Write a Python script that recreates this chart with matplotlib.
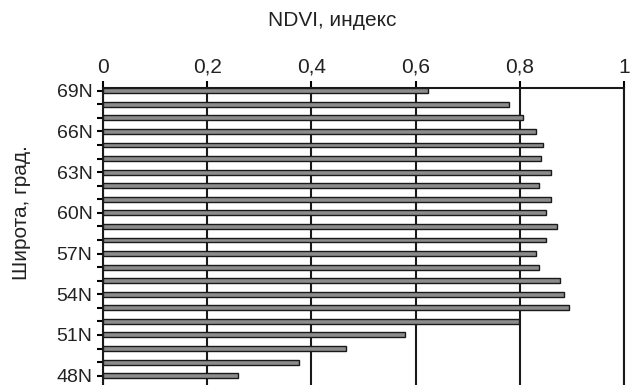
import matplotlib
matplotlib.use('Agg')
import matplotlib.pyplot as plt
from matplotlib.ticker import FuncFormatter

plt.rcParams['font.family'] = ['Liberation Sans', 'DejaVu Sans']

# latitude of each bar (deg N), top to bottom
LATITUDES = list(range(69, 47, -1))
# NDVI
NDVI = [0.624, 0.779, 0.806, 0.832, 0.845, 0.840, 0.859, 0.837, 0.859, 0.850,
        0.872, 0.850, 0.831, 0.837, 0.877, 0.885, 0.894, 0.799, 0.579, 0.467,
        0.376, 0.260]
LABELED_LATS = [69, 66, 63, 60, 57, 54, 51, 48]
X_TICKS = [0, 0.2, 0.4, 0.6, 0.8, 1.0]

fig = plt.figure(figsize=(6.34, 3.85), dpi=100)
ax = fig.add_axes([103 / 634, 0.0, (624 - 103) / 634, 1 - 88 / 385])

ax.barh(LATITUDES, NDVI, height=0.36, color='#8c8c8c', edgecolor='#1a1a1a',
        linewidth=1.0, zorder=3)

ax.set_xlim(0, 1)
ax.set_ylim(47.31, 69.2)

ax.set_xticks(X_TICKS)
ax.xaxis.set_major_formatter(FuncFormatter(
    lambda v, p: '0' if v == 0 else ('1' if v == 1 else ('%.1f' % v).replace('.', ','))))
ax.xaxis.tick_top()
ax.tick_params(axis='x', direction='out', length=5, width=1.5, labelsize=15, pad=3,
               labelcolor='#222222')

ax.set_yticks(LATITUDES)
ax.set_yticklabels(['%dN' % l if l in LABELED_LATS else '' for l in LATITUDES])
ax.tick_params(axis='y', direction='inout', length=9, width=1.5, labelsize=14, pad=3,
               labelcolor='#222222')

ax.grid(axis='x', color='#1a1a1a', linewidth=1.5, zorder=1)
ax.set_axisbelow(True)

for side in ['left', 'top', 'right']:
    ax.spines[side].set_linewidth(1.5)
    ax.spines[side].set_color('#1a1a1a')
ax.spines['bottom'].set_visible(False)

fig.text(332 / 634, 1 - 20 / 385, 'NDVI, индекс', ha='center', va='center',
         fontsize=15, color='#222222')
fig.text(22 / 634, 1 - 213 / 385, 'Широта, град.', ha='center', va='center',
         rotation=90, fontsize=15, color='#222222')

fig.savefig('out.png', dpi=100)
